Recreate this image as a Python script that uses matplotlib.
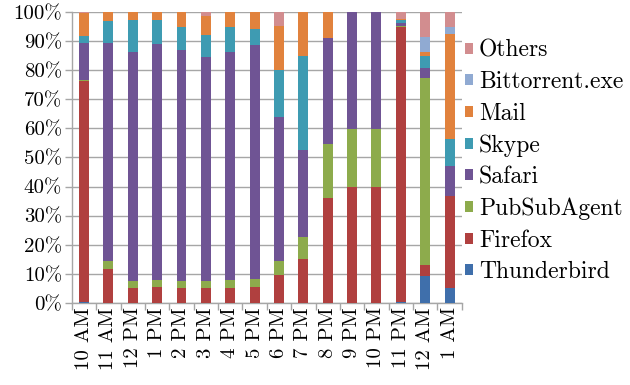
import numpy as np
import matplotlib
matplotlib.use("Agg")
import matplotlib.pyplot as plt
from matplotlib.patches import Patch
from matplotlib.ticker import FixedLocator, NullFormatter

plt.rcParams['font.family'] = ['cmr10', 'DejaVu Serif']
plt.rcParams['axes.formatter.use_mathtext'] = True

hours = ["10 AM", "11 AM", "12 PM", "1 PM", "2 PM", "3 PM", "4 PM", "5 PM",
         "6 PM", "7 PM", "8 PM", "9 PM", "10 PM", "11 PM", "12 AM", "1 AM"]

# share of traffic per application (%), stacked bottom to top
thunderbird = [0.5, 0, 0, 0, 0, 0, 0, 0, 0, 0, 0, 0, 0, 0.3, 9.4, 5.0]
firefox     = [75.6, 11.7, 5.0, 5.5, 5.0, 5.0, 5.0, 5.5, 9.7, 15.1, 36.1, 39.9, 39.9, 94.4, 3.5, 31.6]
pubsubagent = [0.5, 2.6, 2.7, 2.5, 2.7, 2.7, 3.0, 2.7, 4.9, 7.6, 18.5, 20.0, 20.0, 0.6, 64.3, 0]
safari      = [12.7, 75.0, 78.7, 81.0, 79.3, 76.8, 78.4, 80.6, 49.3, 30.0, 36.5, 40.1, 40.1, 0.9, 3.6, 10.3]
skype       = [2.6, 7.6, 11.0, 8.4, 7.7, 7.7, 8.3, 5.5, 16.0, 32.3, 0, 0, 0, 1.2, 3.9, 9.5]
mail        = [7.7, 3.1, 2.6, 2.6, 5.3, 6.5, 5.3, 5.7, 15.2, 15.0, 8.9, 0, 0, 0.2, 1.5, 35.9]
bittorrent  = [0, 0, 0, 0, 0, 0, 0, 0, 0, 0, 0, 0, 0, 0, 5.2, 2.5]
others      = [0.4, 0, 0, 0, 0, 1.3, 0, 0, 4.9, 0, 0, 0, 0, 2.4, 8.6, 5.2]

series = [
    ("Thunderbird", thunderbird, "#3F6FAB"),
    ("Firefox", firefox, "#B0403F"),
    ("PubSubAgent", pubsubagent, "#8DAB4C"),
    ("Safari", safari, "#6F5494"),
    ("Skype", skype, "#3E9BB2"),
    ("Mail", mail, "#E1823D"),
    ("Bittorrent.exe", bittorrent, "#90AAD2"),
    ("Others", others, "#D28D8F"),
]

fig = plt.figure(figsize=(6.3, 3.85), dpi=100)
ax = fig.add_axes([0.114, 0.213, 0.619, 0.756])

x = np.arange(len(hours))
bottom = np.zeros(len(hours))
for name, vals, color in series:
    v = np.array(vals, dtype=float)
    ax.bar(x, v, bottom=bottom, width=0.41, color=color, edgecolor='none', zorder=3)
    bottom += v

grid_color = "#a6a6a6"
ax.set_ylim(0, 100)
ax.set_xlim(-0.5, len(hours) - 0.5)
ax.set_yticks(np.arange(0, 101, 10))
ax.set_yticklabels([f"{v}%" for v in range(0, 101, 10)], fontsize=15)
ax.yaxis.grid(True, color=grid_color, linewidth=1.0, zorder=0)

ax.set_xticks(x)
ax.set_xticklabels(hours, rotation=90, fontsize=15)
ax.xaxis.set_minor_locator(FixedLocator(np.arange(-0.5, len(hours), 1.0)))
ax.xaxis.set_minor_formatter(NullFormatter())
ax.tick_params(axis='x', which='major', length=0, pad=3)
ax.tick_params(axis='x', which='minor', length=5, color=grid_color, width=1.0)
ax.tick_params(axis='y', length=5, color=grid_color, width=1.0, pad=2)

for side in ('top', 'right'):
    ax.spines[side].set_visible(False)
for side in ('left', 'bottom'):
    ax.spines[side].set_color(grid_color)
    ax.spines[side].set_linewidth(1.0)

handles = [Patch(facecolor=c, edgecolor='none', label=n) for n, _, c in series][::-1]
fig.legend(handles=handles, loc='center left', bbox_to_anchor=(0.738, 0.581),
           frameon=False, fontsize=17, handlelength=0.34, handleheight=0.34,
           handletextpad=0.25, labelspacing=0.40, borderaxespad=0, borderpad=0)

fig.savefig("out.png", dpi=100)
